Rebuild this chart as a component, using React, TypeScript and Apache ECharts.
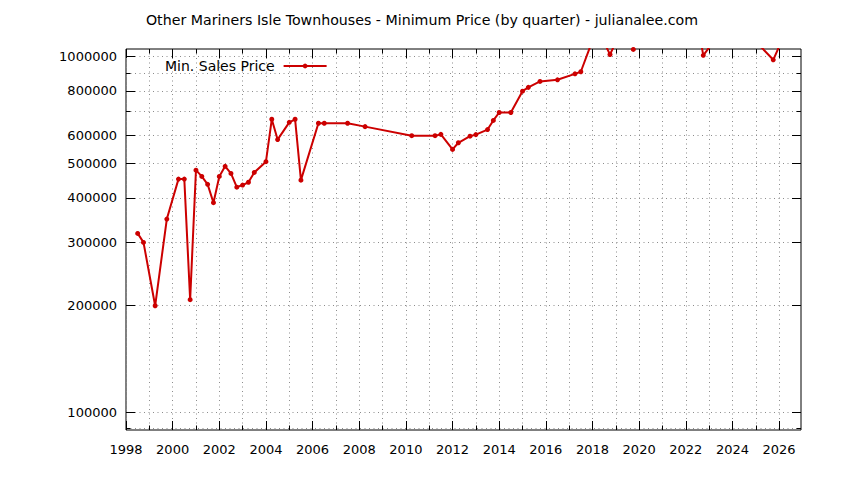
import { useEffect, useRef } from 'react';
import * as echarts from 'echarts';

const TITLE = 'Other Mariners Isle Townhouses - Minimum Price (by quarter) - julianalee.com';
const SERIES_NAME = 'Min. Sales Price';

// Quarter (decimal year) and the minimum sale price in that quarter.
const quarters = [
  1998.5, 1998.75, 1999.25, 1999.75, 2000.25, 2000.5, 2000.75, 2001.0, 2001.25, 2001.5,
  2001.75, 2002.0, 2002.25, 2002.5, 2002.75, 2003.0, 2003.25, 2003.5, 2004.0, 2004.25,
  2004.5, 2005.0, 2005.25, 2005.5, 2006.25, 2006.5, 2007.5, 2008.25, 2010.25, 2011.25,
  2011.5, 2012.0, 2012.25, 2012.75, 2013.0, 2013.5, 2013.75, 2014.0, 2014.5, 2015.0,
  2015.25, 2015.75, 2016.5, 2017.25, 2017.5, 2018.0, 2018.5, 2018.75, 2019.0, 2019.5,
  2019.75, 2020.0, 2022.5, 2022.75, 2023.0, 2024.0, 2025.25, 2025.75, 2026.0,
];
const minPrice = [
  318000, 300000, 199000, 349000, 452000, 452000, 207000, 479000, 460000, 437000,
  388000, 460000, 491000, 469000, 429000, 435000, 443000, 472000, 506000, 666000,
  584000, 653000, 666000, 449000, 649000, 649000, 649000, 635000, 599000, 599000,
  604000, 548000, 572000, 597000, 603000, 623000, 661000, 696000, 696000, 799000,
  819000, 851000, 860000, 894000, 906000, 1110000, 1097000, 1013000, 1097000, 1250000,
  1047000, 1300000, 1250000, 1008000, 1060000, 1150000, 1060000, 979000, 1066000,
];

const yGridTicks = [
  90000, 100000, 200000, 300000, 400000, 500000, 600000, 700000, 800000, 900000, 1000000,
];
const yLabelTicks = [100000, 200000, 300000, 400000, 500000, 600000, 800000, 1000000];
const xGridTicks = Array.from({ length: 29 }, (_, i) => 1998 + i);
const xLabelTicks = [
  1998, 2000, 2002, 2004, 2006, 2008, 2010, 2012, 2014, 2016, 2018, 2020, 2022, 2024, 2026,
];

const X_MIN = 1998;
const X_MAX = 2026.94;
const Y_MIN = 89000;
const Y_MAX = 1050000;

const RED = '#cc0000';
const FONT = 'DejaVu Sans';
const GRID_LINE = { color: '#8c8c8c', width: 1, type: [1, 3.5] as number[] };

export default function App() {
  const ref = useRef<HTMLDivElement | null>(null);

  useEffect(() => {
    if (!ref.current) return;
    const chart = echarts.init(ref.current, undefined, { renderer: 'svg' });

    const xAxisBase = (position: 'top' | 'bottom', ticks: number[], len: number) => ({
      type: 'value',
      position,
      min: X_MIN,
      max: X_MAX,
      axisLine: { show: false },
      axisTick: { show: true, inside: true, length: len, customValues: ticks, lineStyle: { color: '#000' } },
      axisLabel: { show: false },
      splitLine: { show: false },
    });
    const yAxisBase = (position: 'left' | 'right', ticks: number[], len: number) => ({
      type: 'log',
      position,
      min: Y_MIN,
      max: Y_MAX,
      axisLine: { show: false },
      axisTick: { show: true, inside: true, length: len, customValues: ticks, lineStyle: { color: '#000' } },
      axisLabel: { show: false },
      splitLine: { show: false },
    });

    chart.setOption({
      animation: false,
      title: {
        text: TITLE,
        left: 'center',
        top: 8,
        textStyle: { fontFamily: FONT, fontSize: 14.2, fontWeight: 'normal', color: '#000' },
      },
      legend: {
        data: [SERIES_NAME],
        left: 165,
        top: 59,
        align: 'right',
        itemWidth: 43,
        itemHeight: 6,
        padding: 0,
        textStyle: { fontFamily: FONT, fontSize: 14, color: '#000', padding: [0, 4, 0, 0] },
      },
      grid: {
        left: 126,
        right: 43,
        top: 49,
        bottom: 50,
        show: true,
        borderColor: '#000',
        borderWidth: 1,
        backgroundColor: 'transparent',
      },
      xAxis: [
        {
          ...xAxisBase('bottom', xGridTicks, 4.5),
          splitLine: { show: true, lineStyle: GRID_LINE },
          axisLabel: {
            show: true,
            customValues: xLabelTicks,
            formatter: (v: number) => String(v),
            margin: 13,
            color: '#000',
            fontFamily: FONT,
            fontSize: 13,
          },
        },
        xAxisBase('bottom', xLabelTicks, 9),
        xAxisBase('top', xGridTicks, 4.5),
        xAxisBase('top', xLabelTicks, 9),
      ],
      yAxis: [
        {
          ...yAxisBase('left', yGridTicks, 4.5),
          splitLine: { show: true, lineStyle: GRID_LINE },
          axisLabel: {
            show: true,
            customValues: yLabelTicks,
            formatter: (v: number) => String(Math.round(v)),
            margin: 9,
            color: '#000',
            fontFamily: FONT,
            fontSize: 13,
          },
        },
        yAxisBase('left', yLabelTicks, 9),
        yAxisBase('right', yGridTicks, 4.5),
        yAxisBase('right', yLabelTicks, 9),
      ],
      series: [
        {
          name: SERIES_NAME,
          type: 'line',
          xAxisIndex: 0,
          yAxisIndex: 0,
          data: quarters.map((q, i) => [q, minPrice[i]]),
          symbol: 'circle',
          symbolSize: 5,
          clip: true,
          lineStyle: { color: RED, width: 2 },
          itemStyle: { color: RED },
        },
      ],
    });

    return () => chart.dispose();
  }, []);

  return (
    <div
      ref={ref}
      style={{ position: 'fixed', left: 0, top: 0, width: 844, height: 480, background: '#fff' }}
    />
  );
}
